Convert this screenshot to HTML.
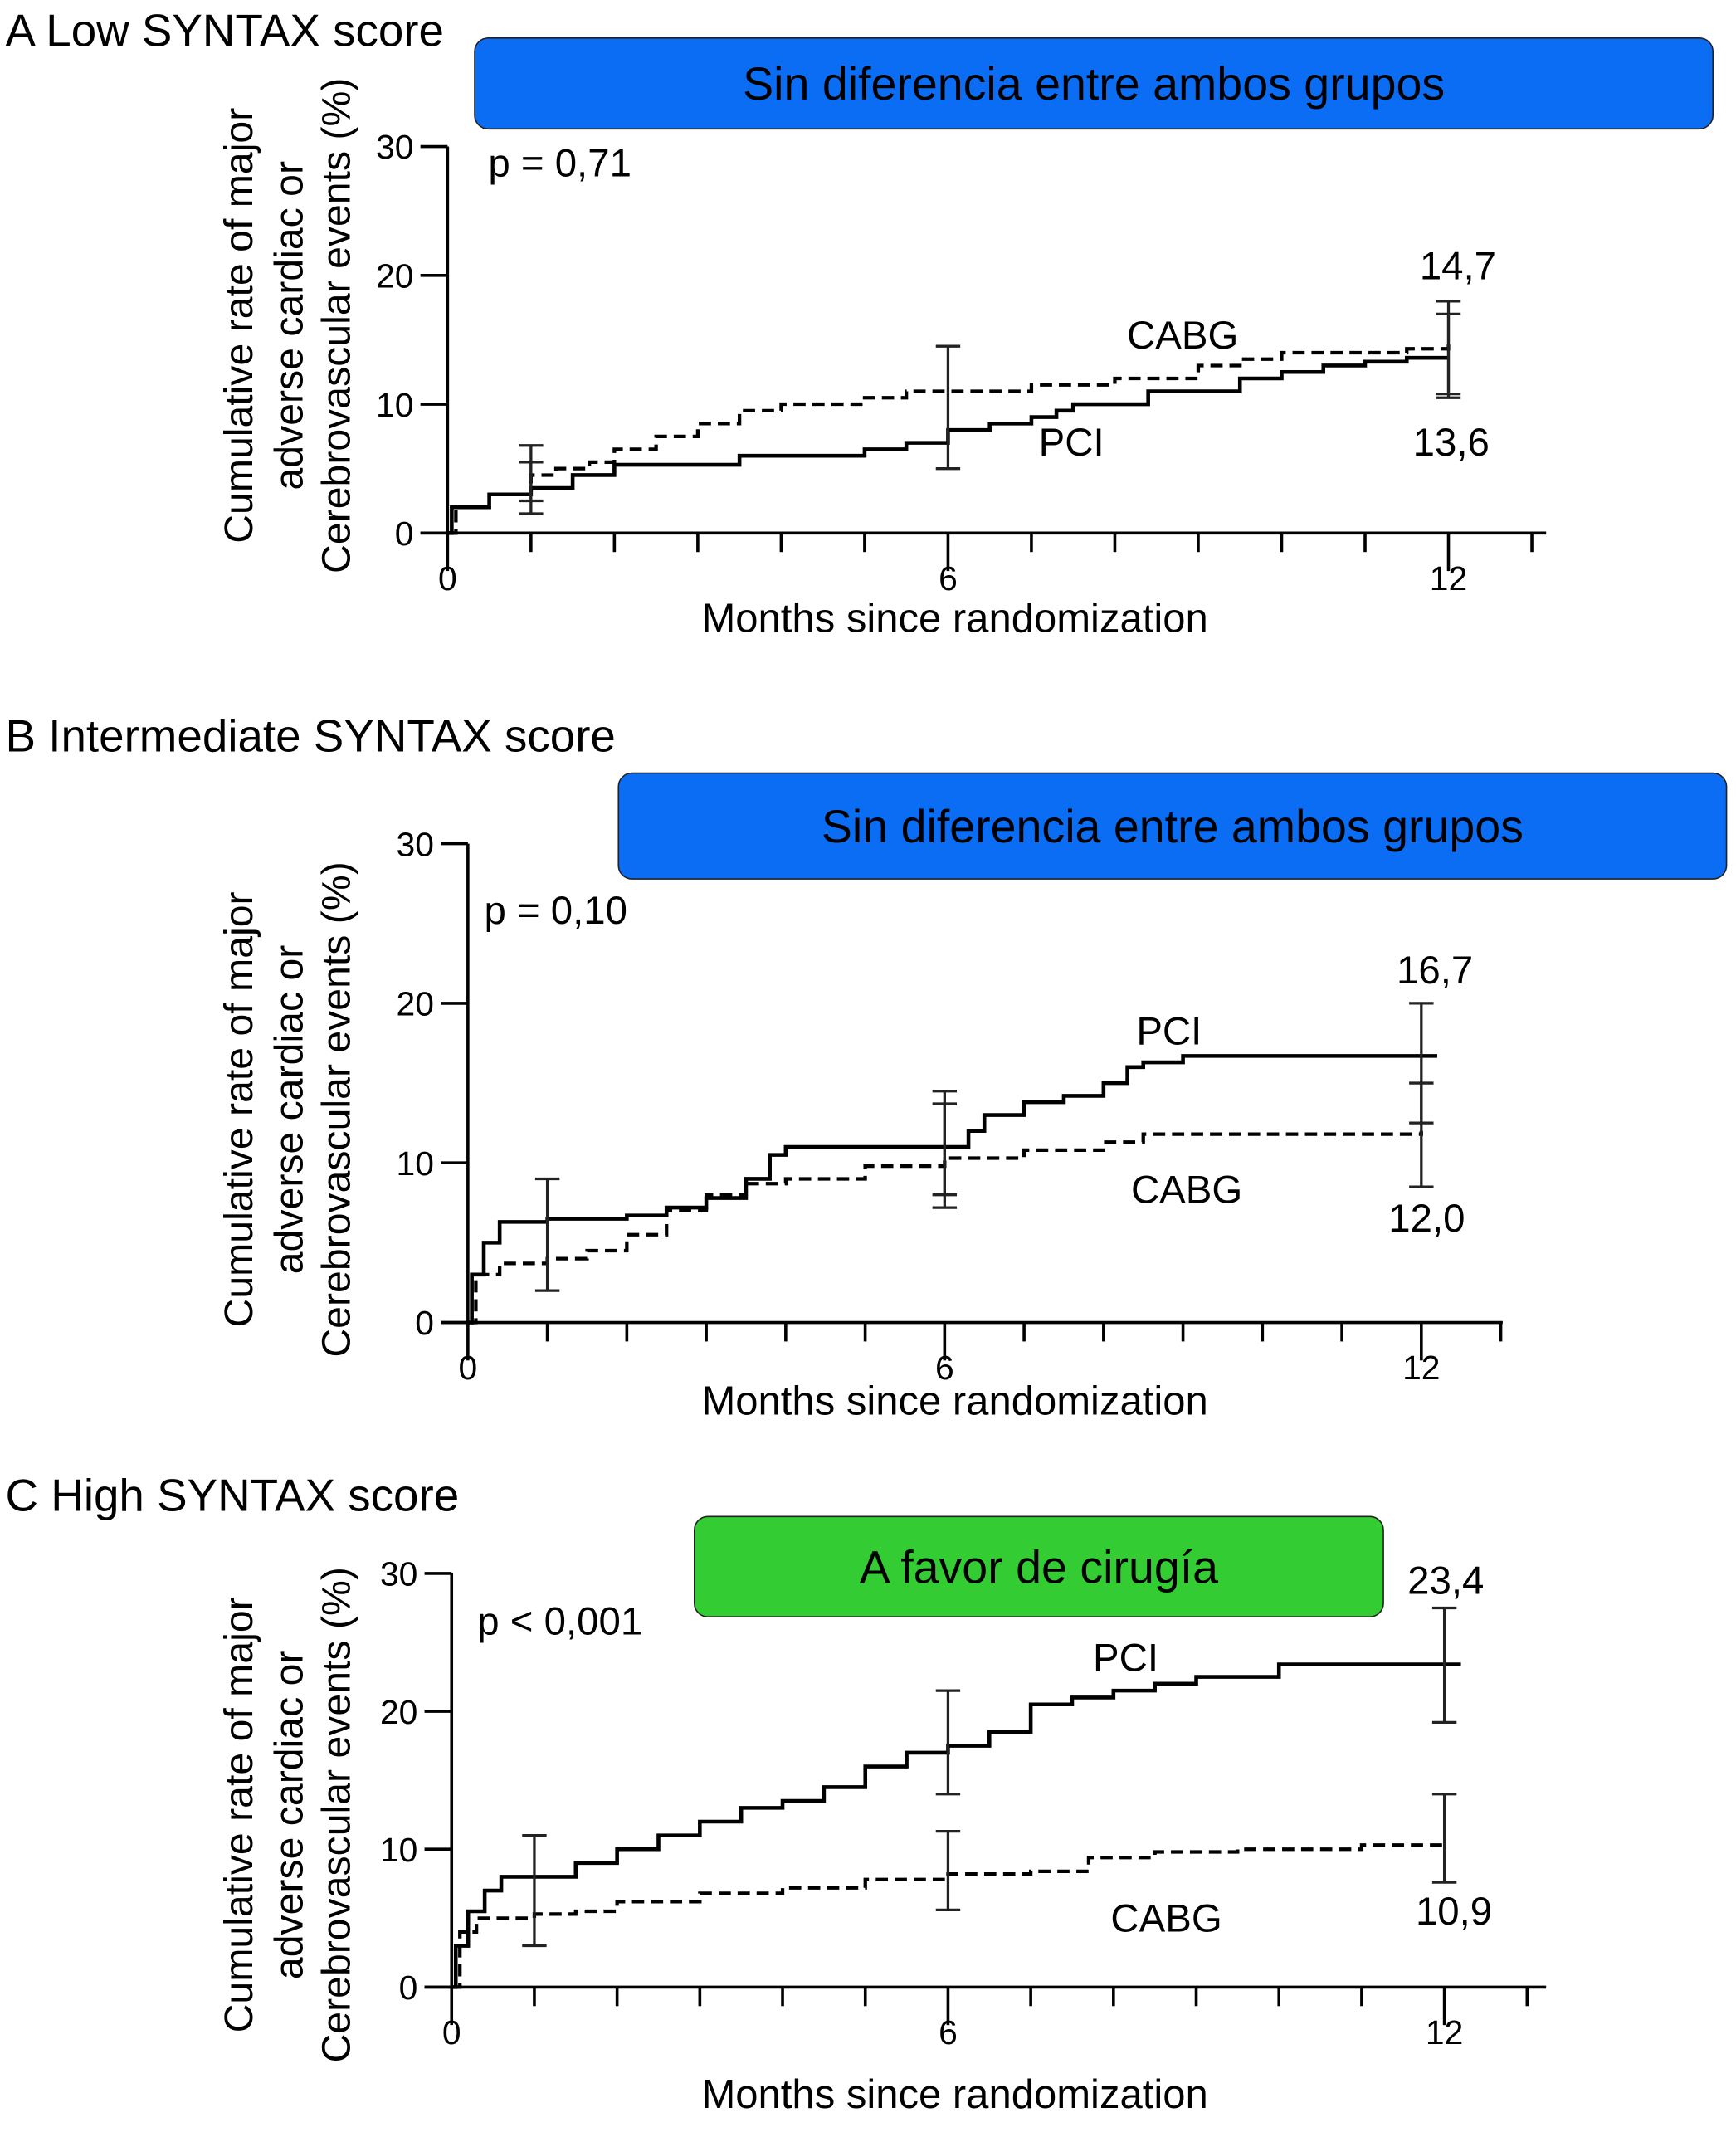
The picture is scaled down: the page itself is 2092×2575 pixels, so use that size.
<!DOCTYPE html>
<html><head><meta charset="utf-8"><style>
html,body{margin:0;padding:0;background:#fff;}
svg{display:block;font-family:"Liberation Sans",Arial,sans-serif;}
</style></head><body>
<svg id="fig" width="2092" height="2575" viewBox="0 0 1280 1575.5" preserveAspectRatio="none"></svg>
<script>
// ---- data ----
const aPciX=[0,0.05,0.5,1,1.5,2,3.3,3.5,5,5.5,6,6.5,7,7.3,7.5,8.4,9.5,10,10.5,11,11.5,12];
const aPciY=[0,2,3,3.5,4.5,5.3,5.3,6,6.5,7,8,8.5,9,9.5,10,11,12,12.5,13,13.3,13.6,13.6];
const aCabgX=[0,0.1,0.5,1,1.3,1.7,2,2.5,3,3.5,4,5,5.5,6,7,8,9,9.5,10,11,11.5,12];
const aCabgY=[0,2,3,4.5,5,5.5,6.5,7.5,8.5,9.5,10,10.5,11,11,11.5,12,13,13.5,14,14,14.3,14.7];
const bPciX=[0,0.05,0.2,0.4,1,2,2.5,3,3.5,3.8,4,6,6.3,6.5,7,7.5,8,8.3,8.5,9,12.2];
const bPciY=[0,3,5,6.3,6.5,6.7,7.2,7.8,9,10.5,11,11,12,13,13.8,14.2,15,16,16.3,16.7,16.7];
const bCabgX=[0,0.1,0.4,1,1.5,2,2.5,3,3.5,4,5,6,7,8,8.5,12];
const bCabgY=[0,3,3.7,4,4.5,5.5,7,8,8.7,9,9.8,10.3,10.8,11.3,11.8,12];
const cPciX=[0,0.05,0.2,0.4,0.6,0.8,1.5,2,2.5,3,3.5,4,4.5,5,5.5,6,6.5,7,7.5,8,8.5,9,10,12.2];
const cPciY=[0,3,5.5,7,8,8,9,10,11,12,13,13.5,14.5,16,17,17.5,18.5,20.5,21,21.5,22,22.5,23.4,23.4];
const cCabgX=[0,0.1,0.3,1,1.5,2,3,4,5,6,7,7.7,8.5,9.5,11,12];
const cCabgY=[0,4,5,5.3,5.5,6.2,6.8,7.2,7.8,8.2,8.4,9.4,9.8,10,10.3,10.6];
// error bars: [month, low, high]
const aErr=[[1,1.5,6.8],[1,2.5,5.5],[6,5,14.5],[12,10.5,18],[12,10.8,17]];
const bErr=[[1,2,9],[6,7.2,14.5],[6,8,13.7],[12,8.5,20],[12,12.5,15]];
const cErr=[[1,3,11],[6,14,21.5],[6,5.6,11.3],[12,19.2,27.5],[12,7.6,14]];
const yTicks=[0,10,20,30];
const xTickLabels=[0,6,12];

const NS="http://www.w3.org/2000/svg";
const svg=document.getElementById('fig');
function mk(tag,attrs,parent){const e=document.createElementNS(NS,tag);for(const k in attrs)e.setAttribute(k,attrs[k]);(parent||svg).appendChild(e);return e;}
function txt(s,x,y,size,anchor,parent){const t=mk('text',{x:x,y:y,'font-size':size,'text-anchor':anchor||'start',fill:'#000'},parent);t.textContent=s;return t;}

const panels=[
 {id:'a',letter:'A',title:'Low SYNTAX score',ty:34,x0:330,x12:1068,xEnd:1140,y0:393,y30:108,
  box:[350,28,913,67,'#0b6cf4','Sin diferencia entre ambos grupos'],p:'p = 0,71',px:360,py:130,
  pci:[aPciX,aPciY],cabg:[aCabgX,aCabgY],err:aErr,
  labels:[['CABG',872,257],['PCI',790,336],['14,7',1075,206],['13,6',1070,336]],ylc:240,xt:466},
 {id:'b',letter:'B',title:'Intermediate SYNTAX score',ty:554,x0:345,x12:1048,xEnd:1108,y0:975,y30:622,
  box:[456,570,817,78,'#0b6cf4','Sin diferencia entre ambos grupos'],p:'p = 0,10',px:357,py:681,
  pci:[bPciX,bPciY],cabg:[bCabgX,bCabgY],err:bErr,
  labels:[['PCI',862,770],['CABG',875,887],['16,7',1058,725],['12,0',1052,908]],ylc:818,xt:1043},
 {id:'c',letter:'C',title:'High SYNTAX score',ty:1114,x0:333,x12:1065,xEnd:1140,y0:1465,y30:1160,
  box:[512,1118,508,74,'#33cc33','A favor de cirugía'],p:'p < 0,001',px:352,py:1205,
  pci:[cPciX,cPciY],cabg:[cCabgX,cCabgY],err:cErr,
  labels:[['PCI',830,1232],['CABG',860,1424],['23,4',1066,1175],['10,9',1072,1419]],ylc:1338,xt:1554}
];

panels.forEach(P=>{
  const g=mk('g',{});
  
  
  const sx=m=>P.x0+(P.x12-P.x0)*m/12;
  const sy=v=>P.y0+(P.y30-P.y0)*v/30;
  const t=txt(P.letter+' '+P.title,4,P.ty,33.5,'start',g);
  
  
  const b=mk('g',{},g);
  
  
  mk('rect',{x:P.box[0],y:P.box[1],width:P.box[2],height:P.box[3],rx:10,fill:P.box[4],stroke:'#222','stroke-width':1},b);
  txt(P.box[5],P.box[0]+P.box[2]/2,P.box[1]+P.box[3]/2+12,34,'middle',b);
  const ax=mk('g',{stroke:'#000','stroke-width':2.2},g);
  
  
  mk('line',{x1:P.x0,y1:P.y30,x2:P.x0,y2:P.y0+1},ax);
  mk('line',{x1:P.x0-20,y1:P.y0,x2:P.xEnd,y2:P.y0},ax);
  yTicks.forEach(v=>{mk('line',{x1:P.x0-20,y1:sy(v),x2:P.x0,y2:sy(v)},ax);
    const l=txt(String(v),P.x0-25,sy(v)+9,25,'end',g);
    });
  for(let m=0;m<=13;m++){mk('line',{x1:sx(m),y1:P.y0,x2:sx(m),y2:P.y0+(m%6==0?28:14)},ax);}
  xTickLabels.forEach(m=>{const l=txt(String(m),sx(m),P.y0+42,25,'middle',g);
    });
  const xl=txt('Months since randomization',704,P.xt,30,'middle',g);
  
  const yl=mk('text',{transform:'translate(0,'+P.ylc+') rotate(-90)','font-size':29.5,'text-anchor':'middle',fill:'#000'},g);
  
  ['Cumulative rate of major','adverse cardiac or','Cerebrovascular events (%)'].forEach((s,i)=>{
    const ts=mk('tspan',{x:0,y:[186,223,258][i]},yl);ts.textContent=s;});
  const pt=txt(P.p,P.px,P.py,29,'start',g);
  
  function step(X,Y){let d='M'+sx(X[0])+' '+sy(Y[0]);for(let i=1;i<X.length;i++){d+=' H'+sx(X[i])+' V'+sy(Y[i]);}return d;}
  const c=mk('path',{d:step(P.cabg[0],P.cabg[1]),fill:'none',stroke:'#000','stroke-width':2.6,'stroke-dasharray':'9,5'},g);
  
  const p=mk('path',{d:step(P.pci[0],P.pci[1]),fill:'none',stroke:'#000','stroke-width':2.8},g);
  
  P.err.forEach(e=>{const eg=mk('g',{stroke:'#222','stroke-width':2},g);
    
    const x=sx(e[0]);
    mk('line',{x1:x,y1:sy(e[1]),x2:x,y2:sy(e[2])},eg);
    mk('line',{x1:x-9,y1:sy(e[1]),x2:x+9,y2:sy(e[1])},eg);
    mk('line',{x1:x-9,y1:sy(e[2]),x2:x+9,y2:sy(e[2])},eg);});
  P.labels.forEach(l=>{const e=txt(l[0],l[1],l[2],29,'middle',g);
    });
});
</script>
</body></html>
